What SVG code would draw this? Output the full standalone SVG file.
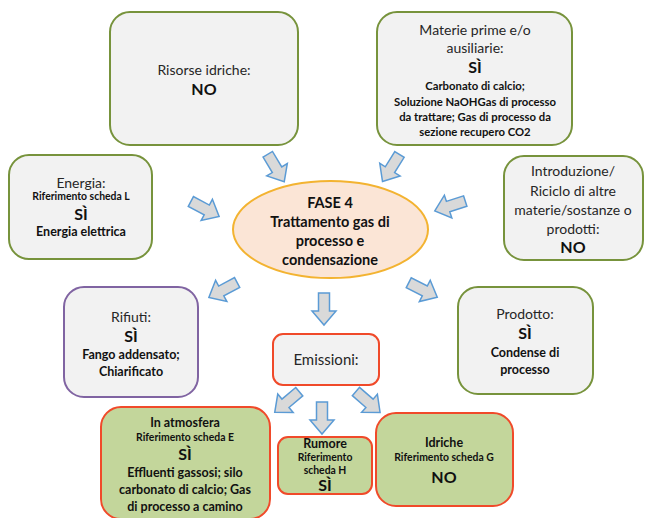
<svg xmlns="http://www.w3.org/2000/svg" width="646" height="518" viewBox="0 0 646 518">
  <style>
    .box { fill: #f2f2f2; stroke: #77933c; stroke-width: 2; }
    .waste { fill: #f2f2f2; stroke: #8064a2; stroke-width: 2; }
    .emi { fill: #f2f2f2; stroke: #f04a2a; stroke-width: 2; }
    .emig { fill: #c3d69b; stroke: #f04a2a; stroke-width: 2; }
    .phase { fill: #fbe5d6; stroke: #f3b331; stroke-width: 2; }
    .arrow { fill: #d9d9d9; stroke: #5b9bd5; stroke-width: 1.5; stroke-linejoin: miter; }
    text { font-family: Lato, "Open Sans", "Liberation Sans", sans-serif; fill: #262626; text-anchor: middle; }
    .t { font-size: 14px; }
    .b { font-size: 16px; font-weight: bold; fill: #111; }
    .s { font-size: 12.5px; font-weight: bold; fill: #111; }
    .s2 { font-size: 11.3px; font-weight: bold; fill: #111; }
    .xs { font-size: 10.4px; font-weight: bold; fill: #111; }
    .m { font-size: 14.5px; font-weight: bold; fill: #111; }
  </style>
  <defs>
    <!-- block arrow pointing down, centred on the origin -->
    <path id="blk" class="arrow" d="M-5.5,-16 H5.5 V2 H12 L0,16 L-12,2 H-5.5 Z"/>
  </defs>

  <g id="connectors">
    <use href="#blk" transform="translate(276,168) rotate(-31)"/>
    <use href="#blk" transform="translate(391,168) rotate(32)"/>
    <use href="#blk" transform="translate(205,209) rotate(-62)"/>
    <use href="#blk" transform="translate(450,206) rotate(72)"/>
    <use href="#blk" transform="translate(223,290) rotate(62)"/>
    <use href="#blk" transform="translate(423,290) rotate(-63)"/>
    <use href="#blk" transform="translate(324,309)"/>
    <use href="#blk" transform="translate(287,402) rotate(50)"/>
    <use href="#blk" transform="translate(322,418)"/>
    <use href="#blk" transform="translate(368,402) rotate(-49)"/>
  </g>

  <g id="risorse-idriche">
    <rect class="box" x="110" y="12" width="188" height="133" rx="20"/>
    <text class="t" x="204" y="75">Risorse idriche:</text>
    <text class="b" x="204" y="95">NO</text>
  </g>

  <g id="materie-prime">
    <rect class="box" x="377" y="12" width="195" height="133" rx="20"/>
    <text class="t" x="475" y="35">Materie prime e/o</text>
    <text class="t" x="475" y="53">ausiliarie:</text>
    <text class="b" x="475" y="73">SÌ</text>
    <text class="s2" x="475" y="90">Carbonato di calcio;</text>
    <text class="s2" x="475" y="106">Soluzione NaOHGas di processo</text>
    <text class="s2" x="475" y="121">da trattare; Gas di processo da</text>
    <text class="s2" x="475" y="136">sezione recupero CO2</text>
  </g>

  <g id="energia">
    <rect class="box" x="9" y="155" width="143" height="104" rx="20"/>
    <text class="t" x="81" y="188">Energia:</text>
    <text class="xs" x="81" y="200">Riferimento scheda L</text>
    <text class="b" x="81" y="220">SÌ</text>
    <text class="s" x="81" y="236">Energia elettrica</text>
  </g>

  <g id="introduzione">
    <rect class="box" x="504" y="156" width="139" height="104" rx="20"/>
    <text class="t" x="573" y="176">Introduzione/</text>
    <text class="t" x="573" y="196">Riciclo di altre</text>
    <text class="t" x="573" y="215">materie/sostanze o</text>
    <text class="t" x="573" y="234">prodotti:</text>
    <text class="b" x="573" y="253">NO</text>
  </g>

  <g id="fase4">
    <ellipse class="phase" cx="330.5" cy="229.5" rx="97.5" ry="48.5"/>
    <text class="m" x="330" y="208">FASE 4</text>
    <text class="m" x="330" y="227">Trattamento gas di</text>
    <text class="m" x="330" y="246">processo e</text>
    <text class="m" x="330" y="265">condensazione</text>
  </g>

  <g id="rifiuti">
    <rect class="waste" x="64" y="287" width="134" height="110" rx="20"/>
    <text class="t" x="131" y="322">Rifiuti:</text>
    <text class="b" x="131" y="342">SÌ</text>
    <text class="s" x="131" y="359">Fango addensato;</text>
    <text class="s" x="131" y="376">Chiarificato</text>
  </g>

  <g id="prodotto">
    <rect class="box" x="458" y="287" width="135" height="107" rx="20"/>
    <text class="t" x="525" y="319">Prodotto:</text>
    <text class="b" x="525" y="339">SÌ</text>
    <text class="s" x="525" y="357">Condense di</text>
    <text class="s" x="525" y="374">processo</text>
  </g>

  <g id="emissioni">
    <rect class="emi" x="273" y="334" width="106" height="51" rx="10"/>
    <text x="326" y="365" style="font-size:15px">Emissioni:</text>
  </g>

  <g id="in-atmosfera">
    <rect class="emig" x="101" y="407" width="169" height="112" rx="20"/>
    <text class="s" x="185" y="427">In atmosfera</text>
    <text class="xs" x="185" y="441">Riferimento scheda E</text>
    <text class="b" x="185" y="460">SÌ</text>
    <text class="s" x="185" y="477">Effluenti gassosi; silo</text>
    <text class="s" x="185" y="494">carbonato di calcio; Gas</text>
    <text class="s" x="185" y="511">di processo a camino</text>
  </g>

  <g id="rumore">
    <rect class="emig" x="278" y="437" width="94" height="57" rx="10"/>
    <text class="s" x="325" y="448">Rumore</text>
    <text class="xs" x="325" y="461">Riferimento</text>
    <text class="xs" x="325" y="474">scheda H</text>
    <text class="b" x="325" y="491">SÌ</text>
  </g>

  <g id="idriche">
    <rect class="emig" x="376" y="413" width="137" height="93" rx="20"/>
    <text class="s" x="444" y="447">Idriche</text>
    <text class="xs" x="444" y="461">Riferimento scheda G</text>
    <text class="b" x="444" y="483">NO</text>
  </g>
</svg>
